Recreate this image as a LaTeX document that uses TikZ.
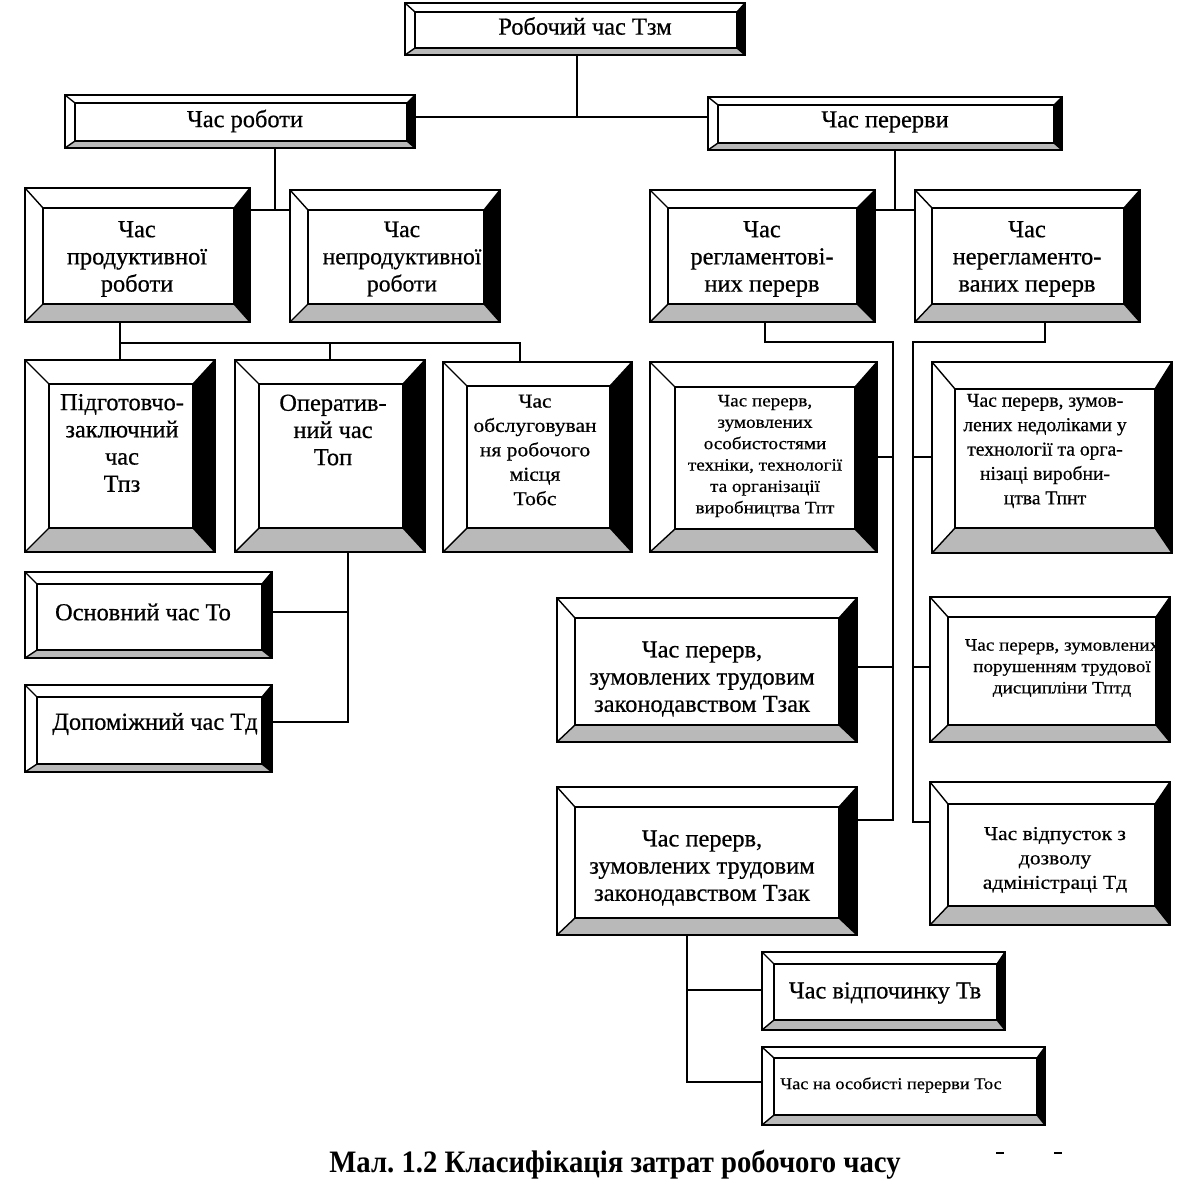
\documentclass[tikz,border=0pt]{standalone}
\usepackage{fontspec}
\setmainfont{Liberation Serif}
\newfontfamily\boxf[FakeBold=0.6]{Liberation Serif}
\newfontfamily\widef[FakeStretch=1.1,FakeBold=0.5]{Liberation Serif}
\newfontfamily\capf[FakeStretch=0.92]{Liberation Serif}
\usetikzlibrary{fit}
\newcommand\bevbox[9]{%
  \fill[white] (#2,#3) rectangle (#4,#5);
  \fill[black] (#4,#3) -- (#4-#8,#3+#7) -- (#4-#8,#5-#9) -- (#4,#5) -- cycle;
  \fill[gray!55] (#2,#5) -- (#2+#6,#5-#9) -- (#4-#8,#5-#9) -- (#4,#5) -- cycle;
  \draw[line width=0.8pt] (#2+#6,#3+#7) rectangle (#4-#8,#5-#9);
  \draw[line width=0.7pt] (#2,#3) -- (#2+#6,#3+#7) (#4,#3) -- (#4-#8,#3+#7)
       (#2,#5) -- (#2+#6,#5-#9) (#4,#5) -- (#4-#8,#5-#9);
  \node[fit={(#2,#3) (#4,#5)}, inner sep=0pt, draw, line width=1.3pt] (#1) {};
}
\tikzset{
  lbl/.style={align=center, inner sep=0pt, font=\boxf\fontsize{12.2}{13.6}\selectfont},
  lblm/.style={align=center, inner sep=0pt, font=\widef\fontsize{9.8}{12.2}\selectfont},
  lbls/.style={align=center, inner sep=0pt, font=\widef\fontsize{8.7}{10.7}\selectfont},
  conn/.style={line width=1.1pt},
}
\begin{document}
\begin{tikzpicture}[x=0.5pt,y=-0.5pt]
\useasboundingbox (0,0) rectangle (1180,1193);
\fill[white] (0,0) rectangle (1180,1193);

% boxes
\bevbox{top}{405}{3}{745}{55}{10}{9}{8}{7}
\bevbox{wr}{65}{95}{415}{148}{10}{8}{8}{7}
\bevbox{wp}{708}{97}{1062}{150}{10}{8}{8}{7}
\bevbox{prod}{25}{188}{250}{322}{18}{20}{16}{18}
\bevbox{nprod}{290}{190}{500}{322}{18}{20}{16}{18}
\bevbox{reg}{650}{190}{875}{322}{18}{18}{18}{18}
\bevbox{nreg}{915}{190}{1140}{322}{17}{18}{16}{18}
\bevbox{tpz}{25}{360}{215}{552}{24}{24}{22}{24}
\bevbox{top2}{235}{360}{425}{552}{24}{24}{22}{24}
\bevbox{tobs}{443}{362}{632}{552}{24}{24}{22}{24}
\bevbox{tpt}{650}{362}{877}{552}{25}{25}{22}{23}
\bevbox{tpnt}{932}{362}{1172}{553}{23}{27}{17}{25}
\bevbox{to}{25}{572}{272}{658}{12}{12}{10}{8}
\bevbox{td}{25}{685}{272}{772}{12}{12}{10}{8}
\bevbox{tzak1}{557}{598}{857}{742}{18}{20}{18}{17}
\bevbox{tptd}{930}{597}{1170}{742}{18}{20}{14}{17}
\bevbox{tzak2}{557}{787}{857}{935}{18}{20}{18}{17}
\bevbox{tvd}{930}{782}{1170}{925}{18}{22}{15}{19}
\bevbox{tv}{762}{952}{1005}{1030}{12}{12}{8}{10}
\bevbox{tos}{762}{1047}{1045}{1125}{12}{11}{8}{10}

% texts
\node[lbl] (top-t) at (585,26) {Робочий час Тзм};
\node[lbl] (wr-t) at (245,121) {Час роботи};
\node[lbl] (wp-t) at (885,122) {Час перерви};
\node[lbl] (prod-t) at (137,259) {Час\\продуктивної\\роботи};
\node[lbl, font=\boxf\fontsize{11.8}{13.6}\selectfont] (nprod-t) at (402,259) {Час\\непродуктивної\\роботи};
\node[lbl] (reg-t) at (762,259) {Час\\регламентові-\\них перерв};
\node[lbl] (nreg-t) at (1027,259) {Час\\нерегламенто-\\ваних перерв};
\node[lbl] (tpz-t) at (122,443) {Підготовчо-\\заключний\\час\\Тпз};
\node[lbl] (top2-t) at (333,430) {Оператив-\\ний час\\Топ};
\node[lblm] (tobs-t) at (535,450) {Час\\обслуговуван\\ня робочого\\місця\\Тобс};
\node[lbls] (tpt-t) at (765,456) {Час перерв,\\зумовлених\\особистостями\\техніки, технології\\та організації\\виробництва Тпт};
\node[lblm, font=\boxf\fontsize{9.8}{12.2}\selectfont] (tpnt-t) at (1045,451) {Час перерв, зумов-\\лених недоліками у\\технології та орга-\\нізаці виробни-\\цтва Тпнт};
\node[lbl] (to-t) at (143,612) {Основний час То};
\node[lbl] (td-t) at (155,724) {Допоміжний час Тд};
\node[lbl] (tzak1-t) at (702,679) {Час перерв,\\зумовлених трудовим\\законодавством Тзак};
\node[lbls] (tptd-t) at (1062,668) {Час перерв, зумовлених\\порушенням трудової\\дисципліни Тптд};
\node[lbl] (tzak2-t) at (702,868) {Час перерв,\\зумовлених трудовим\\законодавством Тзак};
\node[lblm] (tvd-t) at (1055,860) {Час відпусток з\\дозволу\\адміністраці Тд};
\node[lbl] (tv-t) at (885,993) {Час відпочинку Тв};
\node[lbls, font=\widef\fontsize{8.3}{10}\selectfont] (tos-t) at (891,1085) {Час на особисті перерви Тос};
\node[inner sep=0pt, font=\capf\bfseries\fontsize{15.6}{17}\selectfont] (cap) at (615,1165) {Мал.\ 1.2 Класифікація затрат робочого часу};

% junction coordinates
\coordinate (j0) at (577,117);
\coordinate (j1) at (275,210);
\coordinate (j2) at (895,210);
\coordinate (j3) at (120,343);
\coordinate (j3a) at (330,343);
\coordinate (j3b) at (520,343);
\coordinate (j4) at (348,612);
\coordinate (j5) at (348,722);
\coordinate (j6) at (765,342);
\coordinate (j7) at (893,342);
\coordinate (ja) at (893,457);
\coordinate (jb) at (893,667);
\coordinate (jc) at (893,820);
\coordinate (j8) at (1045,342);
\coordinate (j9) at (913,342);
\coordinate (jd) at (913,457);
\coordinate (je) at (913,667);
\coordinate (jf) at (913,822);
\coordinate (jg) at (687,990);
\coordinate (jh) at (687,1082);

% connectors
\draw[conn] (j0 |- top.south) -- (j0);
\draw[conn] (wr.east |- j0) -- (wp.west |- j0);
\draw[conn] (j1 |- wr.south) -- (j1);
\draw[conn] (prod.east |- j1) -- (nprod.west |- j1);
\draw[conn] (j2 |- wp.south) -- (j2);
\draw[conn] (reg.east |- j2) -- (nreg.west |- j2);
\draw[conn] (j3 |- prod.south) -- (j3 |- tpz.north);
\draw[conn] (j3) -- (j3b) -- (j3b |- tobs.north);
\draw[conn] (j3a) -- (j3a |- top2.north);
\draw[conn] (j4 |- top2.south) -- (j5) -- (td.east |- j5);
\draw[conn] (j4) -- (to.east |- j4);
\draw[conn] (j6 |- reg.south) -- (j6) -- (j7) -- (jc) -- (tzak2.east |- jc);
\draw[conn] (ja) -- (tpt.east |- ja);
\draw[conn] (jb) -- (tzak1.east |- jb);
\draw[conn] (j8 |- nreg.south) -- (j8) -- (j9) -- (jf) -- (tvd.west |- jf);
\draw[conn] (jd) -- (tpnt.west |- jd);
\draw[conn] (je) -- (tptd.west |- je);
\draw[conn] (jg |- tzak2.south) -- (jh) -- (tos.west |- jh);
\draw[conn] (jg) -- (tv.west |- jg);

% small marks near caption
\draw[line width=0.8pt] (996,1153) -- (1004,1153);
\draw[line width=0.8pt] (1054,1153) -- (1062,1153);
\end{tikzpicture}
\end{document}
